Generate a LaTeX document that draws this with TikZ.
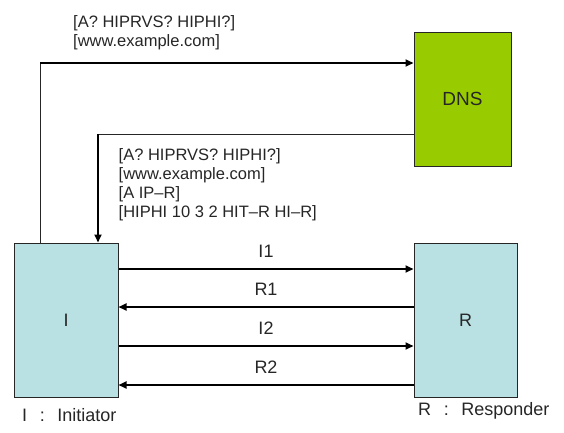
\documentclass[tikz,border=0pt]{standalone}
\usepackage{fontspec}
\setmainfont{Liberation Sans}
\usetikzlibrary{arrows.meta}
\definecolor{dnsgreen}{HTML}{99CC00}
\definecolor{peerblue}{HTML}{B9E0E3}
\definecolor{txt}{HTML}{262626}
\tikzset{
  box/.style={draw=black!85, line width=1pt, inner sep=0pt, text=txt, font=\fontsize{18}{20}\selectfont},
  msgtext/.style={inner sep=0pt, align=left, text=txt, font=\fontsize{16.5}{19}\selectfont},
  lbl/.style={inner sep=0pt, text=txt, font=\fontsize{18}{20}\selectfont},
  thinline/.style={line width=1pt, draw=black!85},
  arrowline/.style={line width=1.8pt, draw=black, -{Triangle[length=8pt,width=7pt]}},
}
\newcommand{\widecolon}{\hspace{0.7em}:\hspace{0.7em}}
\begin{document}
\begin{tikzpicture}[x=1pt,y=-1pt]
\useasboundingbox (0,0) rectangle (564,432);
% boxes
\node[box, fill=dnsgreen, minimum width=97pt, minimum height=134pt, font=\fontsize{19}{21}\selectfont] (DNS) at (462.5,99) {DNS};
\node[box, fill=peerblue, minimum width=104pt, minimum height=154pt] (I) at (66,320) {I};
\node[box, fill=peerblue, minimum width=103pt, minimum height=154pt] (R) at (465.5,320) {R};
% query to DNS
\coordinate (q1) at (40,63);
\draw[thinline] (I.north -| q1) -- (q1);
\draw[arrowline] (q1) -- (DNS.west |- q1);
% answer from DNS
\coordinate (a1) at (98,134);
\draw[thinline] (DNS.west |- a1) -- (a1);
\draw[arrowline] (a1) -- (I.north -| a1);
% message texts
\node[msgtext, anchor=north west] (qtext) at (73,15) {[A? HIPRVS? HIPHI?]\\{}[www.example.com]};
\node[msgtext, anchor=north west] (atext) at (118.5,148.5) {[A? HIPRVS? HIPHI?]\\{}[www.example.com]\\{}[A IP{\textendash}R]\\{}[HIPHI 10 3 2 HIT{\textendash}R HI{\textendash}R]};
% base exchange
\draw[arrowline] (I.east |- 0,269) -- node[lbl, midway, yshift=18pt] (l1) {I1} (R.west |- 0,269);
\draw[arrowline] (R.west |- 0,307) -- node[lbl, midway, yshift=18pt] (l2) {R1} (I.east |- 0,307);
\draw[arrowline] (I.east |- 0,346) -- node[lbl, midway, yshift=18pt] (l3) {I2} (R.west |- 0,346);
\draw[arrowline] (R.west |- 0,385) -- node[lbl, midway, yshift=18pt] (l4) {R2} (I.east |- 0,385);
% legends
\node[lbl, anchor=west] (il) at (22,415) {I\widecolon Initiator};
\node[lbl, anchor=west] (rl) at (418,411) {R\widecolon Responder};
\end{tikzpicture}
\end{document}
